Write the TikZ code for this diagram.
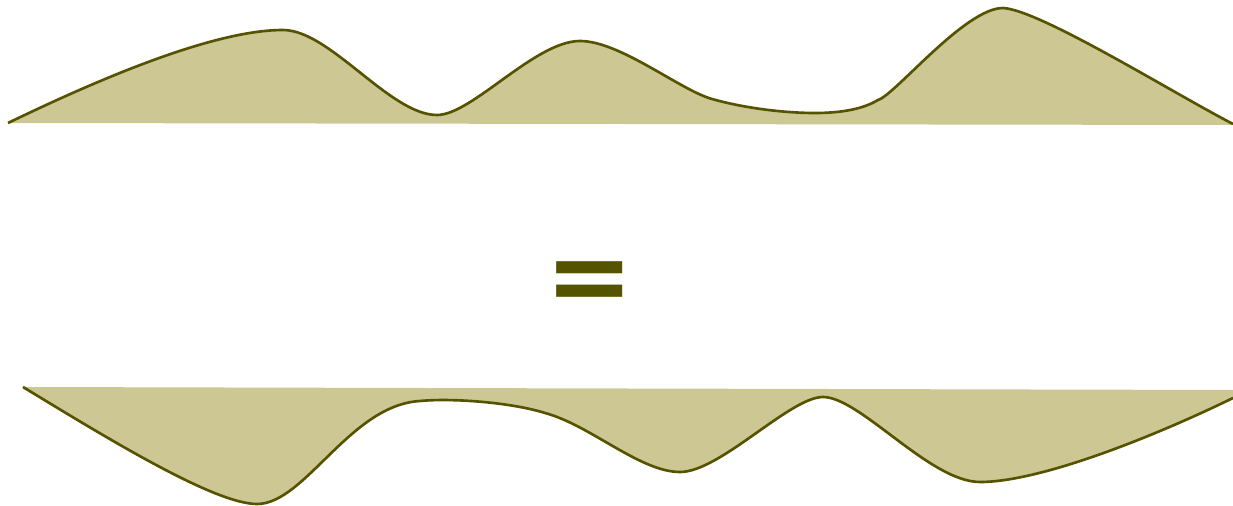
\documentclass[tikz,border=0pt]{standalone}
\usepackage{fontspec}
\newfontfamily\eqfont{DejaVu Sans}
\definecolor{sandFill}{HTML}{CCC793}
\definecolor{mudLine}{HTML}{555200}

\begin{document}
\begin{tikzpicture}[x=0.02cm, y=-0.02cm, every node/.style={font=\small}]
        \useasboundingbox (0,0) rectangle (1233,506);

        % Onda de cima (sobre a linha de base).
        \path[fill=sandFill]
            (8,123)
            .. controls (130,64) and (225,30) .. (283,30)
            .. controls (330,30) and (390,115) .. (437,115)
            .. controls (472,115) and (535,41) .. (580,41)
            .. controls (620,41) and (680,90) .. (712,99)
            .. controls (740,107) and (780,113) .. (815,113)
            .. controls (850,113) and (868,106) .. (878,100)
            .. controls (895,95) and (965,8) .. (1003,8)
            .. controls (1040,10) and (1173,93) .. (1233,124)
            -- (1233,125) -- cycle;
        \draw[mudLine, line width=1.5pt]
            (8,123)
            .. controls (130,64) and (225,30) .. (283,30)
            .. controls (330,30) and (390,115) .. (437,115)
            .. controls (472,115) and (535,41) .. (580,41)
            .. controls (620,41) and (680,90) .. (712,99)
            .. controls (740,107) and (780,113) .. (815,113)
            .. controls (850,113) and (868,106) .. (878,100)
            .. controls (895,95) and (965,8) .. (1003,8)
            .. controls (1040,10) and (1173,93) .. (1233,124);

        % Sinal de igual.
        \node[mudLine, font=\eqfont\bfseries\fontsize{60}{60}\selectfont, inner sep=0pt]
            (eq) at (589.5,287.5) {=};

        % Onda de baixo (sob a linha de base).
        \path[fill=sandFill]
            (23,387)
            .. controls (110,440) and (215,504) .. (257,504)
            .. controls (305,504) and (350,405) .. (420,401)
            .. controls (450,398) and (510,402) .. (545,413)
            .. controls (590,425) and (640,472) .. (680,472)
            .. controls (720,472) and (790,397) .. (823,397)
            .. controls (860,397) and (930,482) .. (980,482)
            .. controls (1040,482) and (1153,437) .. (1233,398)
            -- (1233,390) -- cycle;
        \draw[mudLine, line width=1.5pt]
            (23,387)
            .. controls (110,440) and (215,504) .. (257,504)
            .. controls (305,504) and (350,405) .. (420,401)
            .. controls (450,398) and (510,402) .. (545,413)
            .. controls (590,425) and (640,472) .. (680,472)
            .. controls (720,472) and (790,397) .. (823,397)
            .. controls (860,397) and (930,482) .. (980,482)
            .. controls (1040,482) and (1153,437) .. (1233,398);
    \end{tikzpicture}
\end{document}
